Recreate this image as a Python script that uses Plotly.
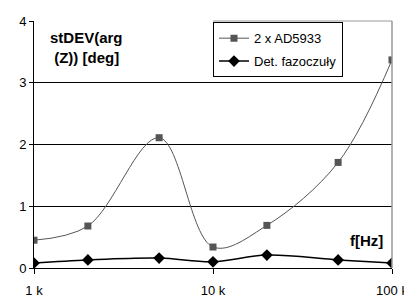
import plotly.graph_objects as go

freq = [1000, 2000, 5000, 10000, 20000, 50000, 100000]
ad5933 = [0.45, 0.68, 2.11, 0.34, 0.69, 1.71, 3.37]
det_faz = [0.08, 0.13, 0.16, 0.10, 0.21, 0.13, 0.08]
x_tickvals = [1000, 10000, 100000]
x_ticktext = ["1 k", "10 k", "100 k"]
y_tickvals = [0, 1, 2, 3, 4]

FONT = "Liberation Sans, Arial, sans-serif"

fig = go.Figure()
fig.add_trace(go.Scatter(
    x=freq, y=ad5933, name="2 x AD5933", mode="lines+markers",
    line=dict(color="#555555", width=1, shape="spline", smoothing=1.0),
    marker=dict(symbol="square", size=7, color="#555555"),
    legendgroup="a"))
fig.add_trace(go.Scatter(
    x=freq, y=det_faz, name="Det. fazoczuły", mode="lines+markers",
    line=dict(color="#000000", width=1.5, shape="spline", smoothing=1.0),
    marker=dict(symbol="diamond", size=9, color="#000000"),
    legendgroup="b"))

# page body has an 8px default margin; figure is sized to fill the rest of the window
fig.update_layout(
    template="none",
    width=404, height=289,
    margin=dict(l=26, r=20, t=13, b=29, autoexpand=False),
    paper_bgcolor="white", plot_bgcolor="white",
    font=dict(family=FONT, size=13, color="black"),
    showlegend=True,
    legend=dict(x=0.5, y=0.995, xanchor="left", yanchor="top",
                bgcolor="white", bordercolor="black", borderwidth=1,
                font=dict(family=FONT, size=13, color="black"),
                traceorder="grouped", tracegroupgap=3,
                itemwidth=30),
    xaxis=dict(type="log", range=[3, 5], tickvals=x_tickvals, ticktext=x_ticktext,
               automargin=False,
               showgrid=False, zeroline=False, showline=True, linecolor="black",
               linewidth=1, ticks="outside", ticklen=5, tickcolor="black",
               tickfont=dict(size=13, family=FONT), ticklabelstandoff=5),
    yaxis=dict(range=[0, 4], tickvals=y_tickvals, showgrid=True, gridcolor="black",
               automargin=False,
               gridwidth=1, zeroline=False, showline=True, linecolor="black",
               linewidth=1, ticks="outside", ticklen=4, tickcolor="black",
               tickfont=dict(size=13, family=FONT)),
    shapes=[
        dict(type="line", xref="paper", yref="paper", x0=1, x1=1, y0=0, y1=1,
             line=dict(color="#999999", width=1.5)),
        dict(type="line", xref="paper", yref="paper", x0=0.5, x1=1, y0=1, y1=1,
             line=dict(color="#999999", width=1)),
    ],
    annotations=[
        dict(text="<b>stDEV(arg<br> (Z)) [deg]</b>", xref="paper", yref="paper",
             x=0.04, y=0.975, xanchor="left", yanchor="top", showarrow=False,
             align="left", font=dict(size=15, family=FONT)),
        dict(text="<b>f[Hz]</b>", xref="paper", yref="paper",
             x=0.98, y=0.113, xanchor="right", yanchor="middle", showarrow=False,
             font=dict(size=15, family=FONT)),
    ],
)

fig.write_html("out.html")
